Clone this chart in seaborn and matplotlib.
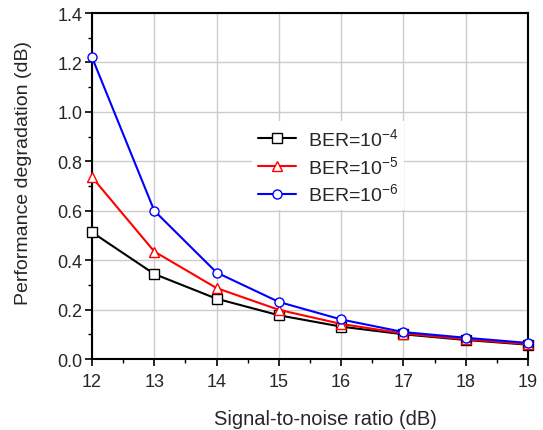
import pandas as pd
import seaborn as sns
import matplotlib.pyplot as plt
from matplotlib.ticker import MultipleLocator

sns.set_style("ticks")
plt.rcParams['font.family'] = ['Liberation Sans', 'DejaVu Sans']
plt.rcParams['mathtext.default'] = 'regular'

# data
snr = [12, 13, 14, 15, 16, 17, 18, 19]
ber4 = [0.513, 0.344, 0.244, 0.177, 0.131, 0.100, 0.077, 0.058]
ber5 = [0.736, 0.435, 0.287, 0.199, 0.142, 0.103, 0.080, 0.060]
ber6 = [1.221, 0.600, 0.350, 0.231, 0.160, 0.109, 0.086, 0.065]
labels = [r'BER=10$^{-4}$', r'BER=10$^{-5}$', r'BER=10$^{-6}$']

df = pd.DataFrame({'snr': snr * 3,
                   'deg': ber4 + ber5 + ber6,
                   'BER': [labels[0]] * 8 + [labels[1]] * 8 + [labels[2]] * 8})

fig = plt.figure(figsize=(5.43, 4.31), dpi=100)
ax = fig.add_axes([0.1694, 0.1647, 0.803, 0.8028])

colors = ['black', 'red', 'blue']
markers = ['s', '^', 'o']
for lab, c, m in zip(labels, colors, markers):
  sub = df[df['BER'] == lab]
  sns.lineplot(data=sub, x='snr', y='deg', ax=ax, color=c, label=lab,
    marker=m, markersize=6.5, markerfacecolor='white',
    markeredgecolor=c, markeredgewidth=1.0, linewidth=1.5, zorder=3,
    clip_on=False)

ax.set_xlim(12, 19)
ax.set_ylim(0, 1.4)
ax.xaxis.set_major_locator(MultipleLocator(1))
ax.xaxis.set_minor_locator(MultipleLocator(0.5))
ax.yaxis.set_major_locator(MultipleLocator(0.2))
ax.yaxis.set_minor_locator(MultipleLocator(0.1))
ax.yaxis.set_major_formatter(plt.FormatStrFormatter('%.1f'))
ax.grid(True, which='major', color='#cccccc', linewidth=1.0, zorder=0)
ax.tick_params(which='major', length=5, width=1.2, labelsize=13, color='black')
ax.tick_params(which='minor', length=3, width=1.0, color='black')
ax.tick_params(axis='x', pad=5)
ax.tick_params(axis='y', pad=2)
for s in ax.spines.values():
  s.set_visible(True)
  s.set_color('black')
  s.set_linewidth(1.5)

ax.set_xlabel('Signal-to-noise ratio (dB)', fontsize=14.5)
ax.set_ylabel('Performance degradation (dB)', fontsize=14)
ax.xaxis.set_label_coords(0.535, -0.145)
ax.yaxis.set_label_coords(-0.137, 0.54)

leg = ax.legend(loc='upper left', bbox_to_anchor=(0.344, 0.715), fontsize=14,
  frameon=True, fancybox=False, framealpha=1, edgecolor='none',
  handlelength=2.0, handletextpad=0.6, labelspacing=0.3, borderpad=0.3)

fig.savefig('out.png', dpi=100)
